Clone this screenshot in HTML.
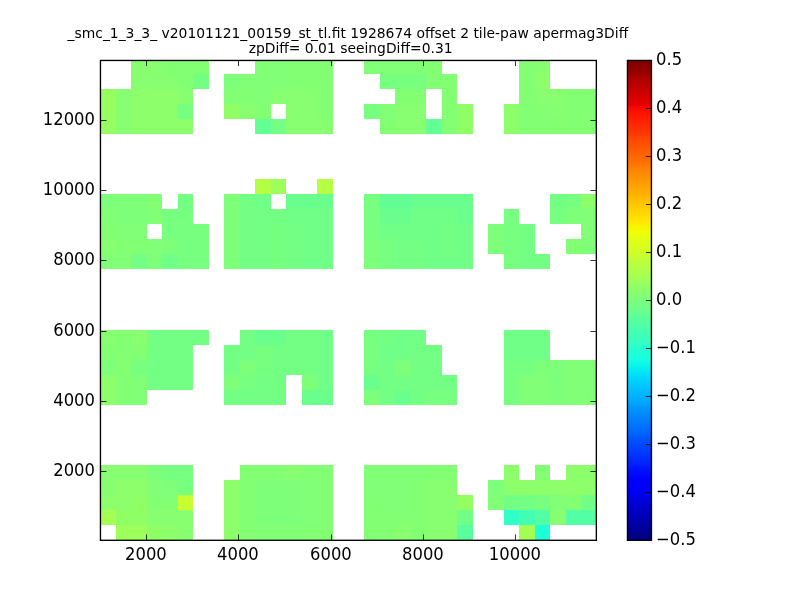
<!DOCTYPE html>
<html><head><meta charset="utf-8"><title>plot</title>
<style>
html,body{margin:0;padding:0;background:#fff;}
svg{display:block;}
text{font-family:"DejaVu Sans","Liberation Sans",sans-serif;font-size:16.67px;fill:#000;}
.t{font-size:13.89px;}
.k{stroke:#000;stroke-width:0.8;fill:none;}
.a{stroke:#000;stroke-width:1.35;fill:none;}
</style></head><body>
<svg width="800" height="600" viewBox="0 0 800 600">
<rect width="800" height="600" fill="#fff"/>
<g shape-rendering="crispEdges">
<rect x="131" y="60" width="31" height="14" fill="#87ff70"/>
<rect x="162" y="60" width="47" height="14" fill="#83ff73"/>
<rect x="255" y="60" width="31" height="14" fill="#80ff77"/>
<rect x="286" y="60" width="47" height="14" fill="#83ff73"/>
<rect x="364" y="60" width="62" height="14" fill="#80ff77"/>
<rect x="426" y="60" width="16" height="14" fill="#83ff73"/>
<rect x="519" y="60" width="16" height="14" fill="#83ff73"/>
<rect x="535" y="60" width="15" height="14" fill="#87ff70"/>
<rect x="131" y="74" width="47" height="15" fill="#87ff70"/>
<rect x="178" y="74" width="15" height="15" fill="#83ff73"/>
<rect x="193" y="74" width="16" height="15" fill="#73ff83"/>
<rect x="224" y="74" width="16" height="15" fill="#7dff7a"/>
<rect x="240" y="74" width="46" height="15" fill="#80ff77"/>
<rect x="286" y="74" width="47" height="15" fill="#83ff73"/>
<rect x="380" y="74" width="46" height="15" fill="#77ff80"/>
<rect x="426" y="74" width="31" height="15" fill="#83ff73"/>
<rect x="519" y="74" width="16" height="15" fill="#83ff73"/>
<rect x="535" y="74" width="15" height="15" fill="#8dff6a"/>
<rect x="100" y="89" width="16" height="15" fill="#97ff60"/>
<rect x="116" y="89" width="15" height="15" fill="#87ff70"/>
<rect x="131" y="89" width="47" height="15" fill="#8dff6a"/>
<rect x="178" y="89" width="15" height="15" fill="#87ff70"/>
<rect x="224" y="89" width="31" height="15" fill="#83ff73"/>
<rect x="255" y="89" width="16" height="15" fill="#80ff77"/>
<rect x="271" y="89" width="46" height="15" fill="#87ff70"/>
<rect x="317" y="89" width="16" height="15" fill="#83ff73"/>
<rect x="395" y="89" width="31" height="15" fill="#83ff73"/>
<rect x="442" y="89" width="15" height="15" fill="#83ff73"/>
<rect x="519" y="89" width="16" height="15" fill="#83ff73"/>
<rect x="535" y="89" width="31" height="15" fill="#87ff70"/>
<rect x="566" y="89" width="30" height="15" fill="#83ff73"/>
<rect x="100" y="104" width="16" height="15" fill="#97ff60"/>
<rect x="116" y="104" width="15" height="15" fill="#87ff70"/>
<rect x="131" y="104" width="47" height="15" fill="#8dff6a"/>
<rect x="178" y="104" width="15" height="15" fill="#77ff80"/>
<rect x="224" y="104" width="16" height="15" fill="#90ff66"/>
<rect x="240" y="104" width="15" height="15" fill="#87ff70"/>
<rect x="255" y="104" width="16" height="15" fill="#83ff73"/>
<rect x="286" y="104" width="31" height="15" fill="#87ff70"/>
<rect x="317" y="104" width="16" height="15" fill="#83ff73"/>
<rect x="364" y="104" width="16" height="15" fill="#77ff80"/>
<rect x="380" y="104" width="15" height="15" fill="#80ff77"/>
<rect x="395" y="104" width="31" height="15" fill="#87ff70"/>
<rect x="442" y="104" width="15" height="15" fill="#83ff73"/>
<rect x="457" y="104" width="16" height="15" fill="#90ff66"/>
<rect x="504" y="104" width="15" height="15" fill="#8dff6a"/>
<rect x="519" y="104" width="31" height="15" fill="#83ff73"/>
<rect x="550" y="104" width="16" height="15" fill="#87ff70"/>
<rect x="566" y="104" width="30" height="15" fill="#83ff73"/>
<rect x="100" y="119" width="16" height="15" fill="#97ff60"/>
<rect x="116" y="119" width="15" height="15" fill="#87ff70"/>
<rect x="131" y="119" width="62" height="15" fill="#8dff6a"/>
<rect x="255" y="119" width="16" height="15" fill="#63ff94"/>
<rect x="271" y="119" width="15" height="15" fill="#73ff83"/>
<rect x="286" y="119" width="47" height="15" fill="#87ff70"/>
<rect x="380" y="119" width="15" height="15" fill="#83ff73"/>
<rect x="395" y="119" width="31" height="15" fill="#87ff70"/>
<rect x="426" y="119" width="16" height="15" fill="#63ff94"/>
<rect x="442" y="119" width="15" height="15" fill="#83ff73"/>
<rect x="457" y="119" width="16" height="15" fill="#90ff66"/>
<rect x="504" y="119" width="15" height="15" fill="#8dff6a"/>
<rect x="519" y="119" width="77" height="15" fill="#83ff73"/>
<rect x="255" y="179" width="16" height="15" fill="#b4ff43"/>
<rect x="271" y="179" width="15" height="15" fill="#9dff5a"/>
<rect x="317" y="179" width="16" height="15" fill="#b4ff43"/>
<rect x="100" y="194" width="47" height="15" fill="#7dff7a"/>
<rect x="147" y="194" width="15" height="15" fill="#83ff73"/>
<rect x="178" y="194" width="15" height="15" fill="#73ff83"/>
<rect x="224" y="194" width="16" height="15" fill="#7dff7a"/>
<rect x="240" y="194" width="15" height="15" fill="#73ff83"/>
<rect x="255" y="194" width="16" height="15" fill="#70ff87"/>
<rect x="286" y="194" width="47" height="15" fill="#6aff8d"/>
<rect x="364" y="194" width="16" height="15" fill="#77ff80"/>
<rect x="380" y="194" width="31" height="15" fill="#63ff94"/>
<rect x="411" y="194" width="62" height="15" fill="#6aff8d"/>
<rect x="550" y="194" width="16" height="15" fill="#73ff83"/>
<rect x="566" y="194" width="15" height="15" fill="#77ff80"/>
<rect x="581" y="194" width="15" height="15" fill="#8dff6a"/>
<rect x="100" y="209" width="16" height="15" fill="#80ff77"/>
<rect x="116" y="209" width="31" height="15" fill="#7dff7a"/>
<rect x="147" y="209" width="15" height="15" fill="#80ff77"/>
<rect x="162" y="209" width="31" height="15" fill="#77ff80"/>
<rect x="224" y="209" width="16" height="15" fill="#7dff7a"/>
<rect x="240" y="209" width="46" height="15" fill="#73ff83"/>
<rect x="286" y="209" width="47" height="15" fill="#70ff87"/>
<rect x="364" y="209" width="16" height="15" fill="#77ff80"/>
<rect x="380" y="209" width="31" height="15" fill="#6aff8d"/>
<rect x="411" y="209" width="46" height="15" fill="#70ff87"/>
<rect x="457" y="209" width="16" height="15" fill="#6aff8d"/>
<rect x="504" y="209" width="15" height="15" fill="#77ff80"/>
<rect x="550" y="209" width="16" height="15" fill="#77ff80"/>
<rect x="566" y="209" width="15" height="15" fill="#7dff7a"/>
<rect x="581" y="209" width="15" height="15" fill="#80ff77"/>
<rect x="100" y="224" width="16" height="15" fill="#83ff73"/>
<rect x="116" y="224" width="31" height="15" fill="#80ff77"/>
<rect x="162" y="224" width="47" height="15" fill="#77ff80"/>
<rect x="224" y="224" width="16" height="15" fill="#7dff7a"/>
<rect x="240" y="224" width="31" height="15" fill="#73ff83"/>
<rect x="271" y="224" width="15" height="15" fill="#77ff80"/>
<rect x="286" y="224" width="16" height="15" fill="#73ff83"/>
<rect x="302" y="224" width="31" height="15" fill="#70ff87"/>
<rect x="364" y="224" width="16" height="15" fill="#77ff80"/>
<rect x="380" y="224" width="62" height="15" fill="#70ff87"/>
<rect x="442" y="224" width="15" height="15" fill="#73ff83"/>
<rect x="457" y="224" width="16" height="15" fill="#70ff87"/>
<rect x="488" y="224" width="16" height="15" fill="#7dff7a"/>
<rect x="504" y="224" width="15" height="15" fill="#77ff80"/>
<rect x="519" y="224" width="16" height="15" fill="#73ff83"/>
<rect x="581" y="224" width="15" height="15" fill="#80ff77"/>
<rect x="100" y="239" width="16" height="15" fill="#87ff70"/>
<rect x="116" y="239" width="31" height="15" fill="#83ff73"/>
<rect x="147" y="239" width="15" height="15" fill="#80ff77"/>
<rect x="162" y="239" width="16" height="15" fill="#7dff7a"/>
<rect x="178" y="239" width="31" height="15" fill="#77ff80"/>
<rect x="224" y="239" width="16" height="15" fill="#7dff7a"/>
<rect x="240" y="239" width="31" height="15" fill="#73ff83"/>
<rect x="271" y="239" width="15" height="15" fill="#77ff80"/>
<rect x="286" y="239" width="16" height="15" fill="#73ff83"/>
<rect x="302" y="239" width="31" height="15" fill="#70ff87"/>
<rect x="364" y="239" width="16" height="15" fill="#7dff7a"/>
<rect x="380" y="239" width="15" height="15" fill="#77ff80"/>
<rect x="395" y="239" width="31" height="15" fill="#73ff83"/>
<rect x="426" y="239" width="16" height="15" fill="#70ff87"/>
<rect x="442" y="239" width="15" height="15" fill="#73ff83"/>
<rect x="457" y="239" width="16" height="15" fill="#70ff87"/>
<rect x="488" y="239" width="16" height="15" fill="#7dff7a"/>
<rect x="504" y="239" width="15" height="15" fill="#77ff80"/>
<rect x="519" y="239" width="16" height="15" fill="#73ff83"/>
<rect x="566" y="239" width="15" height="15" fill="#83ff73"/>
<rect x="581" y="239" width="15" height="15" fill="#7dff7a"/>
<rect x="100" y="254" width="31" height="15" fill="#80ff77"/>
<rect x="131" y="254" width="16" height="15" fill="#73ff83"/>
<rect x="147" y="254" width="15" height="15" fill="#7dff7a"/>
<rect x="162" y="254" width="16" height="15" fill="#70ff87"/>
<rect x="178" y="254" width="31" height="15" fill="#77ff80"/>
<rect x="224" y="254" width="16" height="15" fill="#7dff7a"/>
<rect x="240" y="254" width="31" height="15" fill="#73ff83"/>
<rect x="271" y="254" width="15" height="15" fill="#77ff80"/>
<rect x="286" y="254" width="16" height="15" fill="#73ff83"/>
<rect x="302" y="254" width="31" height="15" fill="#70ff87"/>
<rect x="364" y="254" width="16" height="15" fill="#7dff7a"/>
<rect x="380" y="254" width="15" height="15" fill="#77ff80"/>
<rect x="395" y="254" width="31" height="15" fill="#73ff83"/>
<rect x="426" y="254" width="47" height="15" fill="#70ff87"/>
<rect x="504" y="254" width="15" height="15" fill="#77ff80"/>
<rect x="519" y="254" width="31" height="15" fill="#73ff83"/>
<rect x="100" y="330" width="16" height="15" fill="#87ff70"/>
<rect x="116" y="330" width="15" height="15" fill="#83ff73"/>
<rect x="131" y="330" width="16" height="15" fill="#87ff70"/>
<rect x="147" y="330" width="62" height="15" fill="#73ff83"/>
<rect x="240" y="330" width="15" height="15" fill="#73ff83"/>
<rect x="255" y="330" width="31" height="15" fill="#6aff8d"/>
<rect x="286" y="330" width="31" height="15" fill="#73ff83"/>
<rect x="317" y="330" width="16" height="15" fill="#70ff87"/>
<rect x="364" y="330" width="16" height="15" fill="#77ff80"/>
<rect x="380" y="330" width="15" height="15" fill="#73ff83"/>
<rect x="395" y="330" width="31" height="15" fill="#70ff87"/>
<rect x="504" y="330" width="46" height="15" fill="#70ff87"/>
<rect x="100" y="345" width="47" height="15" fill="#83ff73"/>
<rect x="147" y="345" width="46" height="15" fill="#73ff83"/>
<rect x="224" y="345" width="31" height="15" fill="#73ff83"/>
<rect x="255" y="345" width="16" height="15" fill="#77ff80"/>
<rect x="271" y="345" width="46" height="15" fill="#73ff83"/>
<rect x="317" y="345" width="16" height="15" fill="#70ff87"/>
<rect x="364" y="345" width="16" height="15" fill="#77ff80"/>
<rect x="380" y="345" width="31" height="15" fill="#70ff87"/>
<rect x="411" y="345" width="31" height="15" fill="#73ff83"/>
<rect x="504" y="345" width="46" height="15" fill="#70ff87"/>
<rect x="100" y="360" width="16" height="15" fill="#7dff7a"/>
<rect x="116" y="360" width="15" height="15" fill="#83ff73"/>
<rect x="131" y="360" width="16" height="15" fill="#77ff80"/>
<rect x="147" y="360" width="46" height="15" fill="#73ff83"/>
<rect x="224" y="360" width="16" height="15" fill="#73ff83"/>
<rect x="240" y="360" width="15" height="15" fill="#7dff7a"/>
<rect x="255" y="360" width="16" height="15" fill="#77ff80"/>
<rect x="271" y="360" width="46" height="15" fill="#73ff83"/>
<rect x="317" y="360" width="16" height="15" fill="#70ff87"/>
<rect x="364" y="360" width="16" height="15" fill="#77ff80"/>
<rect x="380" y="360" width="15" height="15" fill="#73ff83"/>
<rect x="395" y="360" width="16" height="15" fill="#7dff7a"/>
<rect x="411" y="360" width="31" height="15" fill="#73ff83"/>
<rect x="504" y="360" width="31" height="15" fill="#77ff80"/>
<rect x="535" y="360" width="31" height="15" fill="#7dff7a"/>
<rect x="566" y="360" width="30" height="15" fill="#80ff77"/>
<rect x="100" y="375" width="16" height="15" fill="#8dff6a"/>
<rect x="116" y="375" width="15" height="15" fill="#83ff73"/>
<rect x="131" y="375" width="16" height="15" fill="#80ff77"/>
<rect x="147" y="375" width="46" height="15" fill="#73ff83"/>
<rect x="224" y="375" width="16" height="15" fill="#7dff7a"/>
<rect x="240" y="375" width="15" height="15" fill="#77ff80"/>
<rect x="255" y="375" width="31" height="15" fill="#73ff83"/>
<rect x="302" y="375" width="15" height="15" fill="#7dff7a"/>
<rect x="317" y="375" width="16" height="15" fill="#70ff87"/>
<rect x="364" y="375" width="16" height="15" fill="#6aff8d"/>
<rect x="380" y="375" width="77" height="15" fill="#73ff83"/>
<rect x="504" y="375" width="15" height="15" fill="#77ff80"/>
<rect x="519" y="375" width="31" height="15" fill="#80ff77"/>
<rect x="550" y="375" width="16" height="15" fill="#7dff7a"/>
<rect x="566" y="375" width="30" height="15" fill="#80ff77"/>
<rect x="100" y="390" width="16" height="15" fill="#8dff6a"/>
<rect x="116" y="390" width="15" height="15" fill="#83ff73"/>
<rect x="131" y="390" width="16" height="15" fill="#80ff77"/>
<rect x="224" y="390" width="62" height="15" fill="#73ff83"/>
<rect x="302" y="390" width="31" height="15" fill="#6aff8d"/>
<rect x="364" y="390" width="16" height="15" fill="#7dff7a"/>
<rect x="380" y="390" width="15" height="15" fill="#73ff83"/>
<rect x="395" y="390" width="16" height="15" fill="#6aff8d"/>
<rect x="411" y="390" width="15" height="15" fill="#73ff83"/>
<rect x="426" y="390" width="31" height="15" fill="#77ff80"/>
<rect x="504" y="390" width="15" height="15" fill="#77ff80"/>
<rect x="519" y="390" width="31" height="15" fill="#80ff77"/>
<rect x="550" y="390" width="16" height="15" fill="#7dff7a"/>
<rect x="566" y="390" width="15" height="15" fill="#80ff77"/>
<rect x="581" y="390" width="15" height="15" fill="#83ff73"/>
<rect x="100" y="465" width="47" height="15" fill="#87ff70"/>
<rect x="147" y="465" width="15" height="15" fill="#7dff7a"/>
<rect x="162" y="465" width="31" height="15" fill="#77ff80"/>
<rect x="240" y="465" width="46" height="15" fill="#83ff73"/>
<rect x="286" y="465" width="16" height="15" fill="#87ff70"/>
<rect x="302" y="465" width="31" height="15" fill="#83ff73"/>
<rect x="364" y="465" width="62" height="15" fill="#80ff77"/>
<rect x="426" y="465" width="31" height="15" fill="#83ff73"/>
<rect x="504" y="465" width="15" height="15" fill="#8dff6a"/>
<rect x="535" y="465" width="15" height="15" fill="#83ff73"/>
<rect x="566" y="465" width="30" height="15" fill="#8dff6a"/>
<rect x="100" y="480" width="16" height="15" fill="#87ff70"/>
<rect x="116" y="480" width="31" height="15" fill="#8dff6a"/>
<rect x="147" y="480" width="15" height="15" fill="#80ff77"/>
<rect x="162" y="480" width="16" height="15" fill="#7dff7a"/>
<rect x="178" y="480" width="15" height="15" fill="#77ff80"/>
<rect x="224" y="480" width="16" height="15" fill="#8dff6a"/>
<rect x="240" y="480" width="15" height="15" fill="#83ff73"/>
<rect x="255" y="480" width="47" height="15" fill="#7dff7a"/>
<rect x="302" y="480" width="15" height="15" fill="#80ff77"/>
<rect x="317" y="480" width="16" height="15" fill="#83ff73"/>
<rect x="364" y="480" width="47" height="15" fill="#80ff77"/>
<rect x="411" y="480" width="15" height="15" fill="#83ff73"/>
<rect x="426" y="480" width="31" height="15" fill="#87ff70"/>
<rect x="488" y="480" width="16" height="15" fill="#7dff7a"/>
<rect x="504" y="480" width="92" height="15" fill="#8dff6a"/>
<rect x="100" y="495" width="31" height="15" fill="#8dff6a"/>
<rect x="131" y="495" width="16" height="15" fill="#90ff66"/>
<rect x="147" y="495" width="31" height="15" fill="#83ff73"/>
<rect x="178" y="495" width="15" height="15" fill="#c7ff30"/>
<rect x="224" y="495" width="16" height="15" fill="#8dff6a"/>
<rect x="240" y="495" width="15" height="15" fill="#83ff73"/>
<rect x="255" y="495" width="47" height="15" fill="#7dff7a"/>
<rect x="302" y="495" width="15" height="15" fill="#80ff77"/>
<rect x="317" y="495" width="16" height="15" fill="#83ff73"/>
<rect x="364" y="495" width="16" height="15" fill="#83ff73"/>
<rect x="380" y="495" width="31" height="15" fill="#80ff77"/>
<rect x="411" y="495" width="15" height="15" fill="#83ff73"/>
<rect x="426" y="495" width="31" height="15" fill="#87ff70"/>
<rect x="457" y="495" width="16" height="15" fill="#94ff63"/>
<rect x="488" y="495" width="16" height="15" fill="#80ff77"/>
<rect x="504" y="495" width="31" height="15" fill="#73ff83"/>
<rect x="535" y="495" width="15" height="15" fill="#77ff80"/>
<rect x="550" y="495" width="16" height="15" fill="#80ff77"/>
<rect x="566" y="495" width="15" height="15" fill="#83ff73"/>
<rect x="581" y="495" width="15" height="15" fill="#70ff87"/>
<rect x="100" y="510" width="16" height="15" fill="#a4ff53"/>
<rect x="116" y="510" width="31" height="15" fill="#90ff66"/>
<rect x="147" y="510" width="46" height="15" fill="#87ff70"/>
<rect x="224" y="510" width="16" height="15" fill="#8dff6a"/>
<rect x="240" y="510" width="15" height="15" fill="#83ff73"/>
<rect x="255" y="510" width="47" height="15" fill="#7dff7a"/>
<rect x="302" y="510" width="15" height="15" fill="#80ff77"/>
<rect x="317" y="510" width="16" height="15" fill="#83ff73"/>
<rect x="364" y="510" width="62" height="15" fill="#83ff73"/>
<rect x="426" y="510" width="31" height="15" fill="#87ff70"/>
<rect x="457" y="510" width="16" height="15" fill="#70ff87"/>
<rect x="504" y="510" width="15" height="15" fill="#30ffc7"/>
<rect x="519" y="510" width="16" height="15" fill="#43ffb4"/>
<rect x="535" y="510" width="15" height="15" fill="#53ffa4"/>
<rect x="550" y="510" width="16" height="15" fill="#87ff70"/>
<rect x="566" y="510" width="30" height="15" fill="#53ffa4"/>
<rect x="116" y="525" width="31" height="15" fill="#9dff5a"/>
<rect x="147" y="525" width="15" height="15" fill="#90ff66"/>
<rect x="162" y="525" width="16" height="15" fill="#8dff6a"/>
<rect x="178" y="525" width="15" height="15" fill="#87ff70"/>
<rect x="224" y="525" width="16" height="15" fill="#8dff6a"/>
<rect x="240" y="525" width="15" height="15" fill="#83ff73"/>
<rect x="255" y="525" width="47" height="15" fill="#80ff77"/>
<rect x="302" y="525" width="31" height="15" fill="#83ff73"/>
<rect x="364" y="525" width="31" height="15" fill="#83ff73"/>
<rect x="395" y="525" width="16" height="15" fill="#87ff70"/>
<rect x="411" y="525" width="15" height="15" fill="#83ff73"/>
<rect x="426" y="525" width="31" height="15" fill="#87ff70"/>
<rect x="457" y="525" width="16" height="15" fill="#5aff9d"/>
<rect x="519" y="525" width="16" height="15" fill="#a4ff53"/>
<rect x="535" y="525" width="15" height="15" fill="#1fffd7"/>
</g>
<g shape-rendering="crispEdges">
<rect x="627" y="60" width="25" height="2" fill="#800000"/>
<rect x="627" y="62" width="25" height="2" fill="#840000"/>
<rect x="627" y="64" width="25" height="2" fill="#890000"/>
<rect x="627" y="66" width="25" height="2" fill="#8d0000"/>
<rect x="627" y="68" width="25" height="2" fill="#920000"/>
<rect x="627" y="70" width="25" height="2" fill="#960000"/>
<rect x="627" y="72" width="25" height="2" fill="#9b0000"/>
<rect x="627" y="74" width="25" height="2" fill="#9f0000"/>
<rect x="627" y="76" width="25" height="2" fill="#a80000"/>
<rect x="627" y="78" width="25" height="2" fill="#ad0000"/>
<rect x="627" y="80" width="25" height="2" fill="#b20000"/>
<rect x="627" y="82" width="25" height="2" fill="#b60000"/>
<rect x="627" y="84" width="25" height="2" fill="#bb0000"/>
<rect x="627" y="86" width="25" height="2" fill="#bf0000"/>
<rect x="627" y="88" width="25" height="2" fill="#c40000"/>
<rect x="627" y="90" width="25" height="2" fill="#c80000"/>
<rect x="627" y="92" width="25" height="2" fill="#cd0000"/>
<rect x="627" y="94" width="25" height="2" fill="#d10000"/>
<rect x="627" y="96" width="25" height="2" fill="#d60000"/>
<rect x="627" y="98" width="25" height="2" fill="#da0000"/>
<rect x="627" y="100" width="25" height="2" fill="#df0000"/>
<rect x="627" y="102" width="25" height="2" fill="#e40000"/>
<rect x="627" y="104" width="25" height="2" fill="#e80000"/>
<rect x="627" y="106" width="25" height="2" fill="#f10800"/>
<rect x="627" y="108" width="25" height="2" fill="#f60b00"/>
<rect x="627" y="110" width="25" height="2" fill="#fa0f00"/>
<rect x="627" y="112" width="25" height="2" fill="#ff1300"/>
<rect x="627" y="114" width="25" height="2" fill="#ff1600"/>
<rect x="627" y="116" width="25" height="2" fill="#ff1a00"/>
<rect x="627" y="118" width="25" height="2" fill="#ff1e00"/>
<rect x="627" y="120" width="25" height="2" fill="#ff2200"/>
<rect x="627" y="122" width="25" height="2" fill="#ff2500"/>
<rect x="627" y="124" width="25" height="2" fill="#ff2900"/>
<rect x="627" y="126" width="25" height="2" fill="#ff2d00"/>
<rect x="627" y="128" width="25" height="2" fill="#ff3000"/>
<rect x="627" y="130" width="25" height="2" fill="#ff3400"/>
<rect x="627" y="132" width="25" height="2" fill="#ff3800"/>
<rect x="627" y="134" width="25" height="2" fill="#ff3b00"/>
<rect x="627" y="136" width="25" height="2" fill="#ff4300"/>
<rect x="627" y="138" width="25" height="2" fill="#ff4700"/>
<rect x="627" y="140" width="25" height="2" fill="#ff4a00"/>
<rect x="627" y="142" width="25" height="2" fill="#ff4e00"/>
<rect x="627" y="144" width="25" height="2" fill="#ff5200"/>
<rect x="627" y="146" width="25" height="2" fill="#ff5500"/>
<rect x="627" y="148" width="25" height="2" fill="#ff5900"/>
<rect x="627" y="150" width="25" height="2" fill="#ff5d00"/>
<rect x="627" y="152" width="25" height="2" fill="#ff6000"/>
<rect x="627" y="154" width="25" height="2" fill="#ff6400"/>
<rect x="627" y="156" width="25" height="2" fill="#ff6800"/>
<rect x="627" y="158" width="25" height="2" fill="#ff6c00"/>
<rect x="627" y="160" width="25" height="2" fill="#ff6f00"/>
<rect x="627" y="162" width="25" height="2" fill="#ff7300"/>
<rect x="627" y="164" width="25" height="2" fill="#ff7700"/>
<rect x="627" y="166" width="25" height="2" fill="#ff7e00"/>
<rect x="627" y="168" width="25" height="2" fill="#ff8200"/>
<rect x="627" y="170" width="25" height="2" fill="#ff8600"/>
<rect x="627" y="172" width="25" height="2" fill="#ff8900"/>
<rect x="627" y="174" width="25" height="2" fill="#ff8d00"/>
<rect x="627" y="176" width="25" height="2" fill="#ff9100"/>
<rect x="627" y="178" width="25" height="2" fill="#ff9400"/>
<rect x="627" y="180" width="25" height="2" fill="#ff9800"/>
<rect x="627" y="182" width="25" height="2" fill="#ff9c00"/>
<rect x="627" y="184" width="25" height="2" fill="#ff9f00"/>
<rect x="627" y="186" width="25" height="2" fill="#ffa300"/>
<rect x="627" y="188" width="25" height="2" fill="#ffa700"/>
<rect x="627" y="190" width="25" height="2" fill="#ffab00"/>
<rect x="627" y="192" width="25" height="2" fill="#ffae00"/>
<rect x="627" y="194" width="25" height="2" fill="#ffb200"/>
<rect x="627" y="196" width="25" height="2" fill="#ffb900"/>
<rect x="627" y="198" width="25" height="2" fill="#ffbd00"/>
<rect x="627" y="200" width="25" height="2" fill="#ffc100"/>
<rect x="627" y="202" width="25" height="2" fill="#ffc400"/>
<rect x="627" y="204" width="25" height="2" fill="#ffc800"/>
<rect x="627" y="206" width="25" height="2" fill="#ffcc00"/>
<rect x="627" y="208" width="25" height="2" fill="#ffd000"/>
<rect x="627" y="210" width="25" height="2" fill="#ffd300"/>
<rect x="627" y="212" width="25" height="2" fill="#ffd700"/>
<rect x="627" y="214" width="25" height="2" fill="#ffdb00"/>
<rect x="627" y="216" width="25" height="2" fill="#ffde00"/>
<rect x="627" y="218" width="25" height="2" fill="#ffe200"/>
<rect x="627" y="220" width="25" height="2" fill="#ffe600"/>
<rect x="627" y="222" width="25" height="2" fill="#ffea00"/>
<rect x="627" y="224" width="25" height="2" fill="#feed00"/>
<rect x="627" y="226" width="25" height="2" fill="#f8f500"/>
<rect x="627" y="228" width="25" height="2" fill="#f4f802"/>
<rect x="627" y="230" width="25" height="2" fill="#f1fc06"/>
<rect x="627" y="232" width="25" height="2" fill="#eeff09"/>
<rect x="627" y="234" width="25" height="2" fill="#ebff0c"/>
<rect x="627" y="236" width="25" height="2" fill="#e7ff0f"/>
<rect x="627" y="238" width="25" height="2" fill="#e4ff13"/>
<rect x="627" y="240" width="25" height="2" fill="#e1ff16"/>
<rect x="627" y="242" width="25" height="2" fill="#deff19"/>
<rect x="627" y="244" width="25" height="2" fill="#dbff1c"/>
<rect x="627" y="246" width="25" height="2" fill="#d7ff1f"/>
<rect x="627" y="248" width="25" height="2" fill="#d4ff23"/>
<rect x="627" y="250" width="25" height="2" fill="#d1ff26"/>
<rect x="627" y="252" width="25" height="2" fill="#ceff29"/>
<rect x="627" y="254" width="25" height="2" fill="#caff2c"/>
<rect x="627" y="256" width="25" height="2" fill="#c4ff33"/>
<rect x="627" y="258" width="25" height="2" fill="#c1ff36"/>
<rect x="627" y="260" width="25" height="2" fill="#beff39"/>
<rect x="627" y="262" width="25" height="2" fill="#baff3c"/>
<rect x="627" y="264" width="25" height="2" fill="#b7ff40"/>
<rect x="627" y="266" width="25" height="2" fill="#b4ff43"/>
<rect x="627" y="268" width="25" height="2" fill="#b1ff46"/>
<rect x="627" y="270" width="25" height="2" fill="#adff49"/>
<rect x="627" y="272" width="25" height="2" fill="#aaff4d"/>
<rect x="627" y="274" width="25" height="2" fill="#a7ff50"/>
<rect x="627" y="276" width="25" height="2" fill="#a4ff53"/>
<rect x="627" y="278" width="25" height="2" fill="#a0ff56"/>
<rect x="627" y="280" width="25" height="2" fill="#9dff5a"/>
<rect x="627" y="282" width="25" height="2" fill="#9aff5d"/>
<rect x="627" y="284" width="25" height="2" fill="#97ff60"/>
<rect x="627" y="286" width="25" height="2" fill="#90ff66"/>
<rect x="627" y="288" width="25" height="2" fill="#8dff6a"/>
<rect x="627" y="290" width="25" height="2" fill="#8aff6d"/>
<rect x="627" y="292" width="25" height="2" fill="#87ff70"/>
<rect x="627" y="294" width="25" height="2" fill="#83ff73"/>
<rect x="627" y="296" width="25" height="2" fill="#80ff77"/>
<rect x="627" y="298" width="25" height="2" fill="#7dff7a"/>
<rect x="627" y="300" width="25" height="2" fill="#7aff7d"/>
<rect x="627" y="302" width="25" height="2" fill="#77ff80"/>
<rect x="627" y="304" width="25" height="2" fill="#73ff83"/>
<rect x="627" y="306" width="25" height="2" fill="#70ff87"/>
<rect x="627" y="308" width="25" height="2" fill="#6dff8a"/>
<rect x="627" y="310" width="25" height="2" fill="#6aff8d"/>
<rect x="627" y="312" width="25" height="2" fill="#66ff90"/>
<rect x="627" y="314" width="25" height="2" fill="#63ff94"/>
<rect x="627" y="316" width="25" height="2" fill="#5dff9a"/>
<rect x="627" y="318" width="25" height="2" fill="#5aff9d"/>
<rect x="627" y="320" width="25" height="2" fill="#56ffa0"/>
<rect x="627" y="322" width="25" height="2" fill="#53ffa4"/>
<rect x="627" y="324" width="25" height="2" fill="#50ffa7"/>
<rect x="627" y="326" width="25" height="2" fill="#4dffaa"/>
<rect x="627" y="328" width="25" height="2" fill="#49ffad"/>
<rect x="627" y="330" width="25" height="2" fill="#46ffb1"/>
<rect x="627" y="332" width="25" height="2" fill="#43ffb4"/>
<rect x="627" y="334" width="25" height="2" fill="#40ffb7"/>
<rect x="627" y="336" width="25" height="2" fill="#3cffba"/>
<rect x="627" y="338" width="25" height="2" fill="#39ffbe"/>
<rect x="627" y="340" width="25" height="2" fill="#36ffc1"/>
<rect x="627" y="342" width="25" height="2" fill="#33ffc4"/>
<rect x="627" y="344" width="25" height="2" fill="#30ffc7"/>
<rect x="627" y="346" width="25" height="2" fill="#29ffce"/>
<rect x="627" y="348" width="25" height="2" fill="#26ffd1"/>
<rect x="627" y="350" width="25" height="2" fill="#23ffd4"/>
<rect x="627" y="352" width="25" height="2" fill="#1fffd7"/>
<rect x="627" y="354" width="25" height="2" fill="#1cffdb"/>
<rect x="627" y="356" width="25" height="2" fill="#19ffde"/>
<rect x="627" y="358" width="25" height="2" fill="#16ffe1"/>
<rect x="627" y="360" width="25" height="2" fill="#13fce4"/>
<rect x="627" y="362" width="25" height="2" fill="#0ff8e7"/>
<rect x="627" y="364" width="25" height="2" fill="#0cf4eb"/>
<rect x="627" y="366" width="25" height="2" fill="#09f0ee"/>
<rect x="627" y="368" width="25" height="2" fill="#06ecf1"/>
<rect x="627" y="370" width="25" height="2" fill="#02e8f4"/>
<rect x="627" y="372" width="25" height="2" fill="#00e4f8"/>
<rect x="627" y="374" width="25" height="2" fill="#00e0fb"/>
<rect x="627" y="376" width="25" height="2" fill="#00d8ff"/>
<rect x="627" y="378" width="25" height="2" fill="#00d4ff"/>
<rect x="627" y="380" width="25" height="2" fill="#00d0ff"/>
<rect x="627" y="382" width="25" height="2" fill="#00ccff"/>
<rect x="627" y="384" width="25" height="2" fill="#00c8ff"/>
<rect x="627" y="386" width="25" height="2" fill="#00c4ff"/>
<rect x="627" y="388" width="25" height="2" fill="#00c0ff"/>
<rect x="627" y="390" width="25" height="2" fill="#00bcff"/>
<rect x="627" y="392" width="25" height="2" fill="#00b8ff"/>
<rect x="627" y="394" width="25" height="2" fill="#00b4ff"/>
<rect x="627" y="396" width="25" height="2" fill="#00b0ff"/>
<rect x="627" y="398" width="25" height="2" fill="#00acff"/>
<rect x="627" y="400" width="25" height="2" fill="#00a8ff"/>
<rect x="627" y="402" width="25" height="2" fill="#00a4ff"/>
<rect x="627" y="404" width="25" height="2" fill="#00a0ff"/>
<rect x="627" y="406" width="25" height="2" fill="#0098ff"/>
<rect x="627" y="408" width="25" height="2" fill="#0094ff"/>
<rect x="627" y="410" width="25" height="2" fill="#0090ff"/>
<rect x="627" y="412" width="25" height="2" fill="#008cff"/>
<rect x="627" y="414" width="25" height="2" fill="#0088ff"/>
<rect x="627" y="416" width="25" height="2" fill="#0084ff"/>
<rect x="627" y="418" width="25" height="2" fill="#0080ff"/>
<rect x="627" y="420" width="25" height="2" fill="#007cff"/>
<rect x="627" y="422" width="25" height="2" fill="#0078ff"/>
<rect x="627" y="424" width="25" height="2" fill="#0074ff"/>
<rect x="627" y="426" width="25" height="2" fill="#0070ff"/>
<rect x="627" y="428" width="25" height="2" fill="#006cff"/>
<rect x="627" y="430" width="25" height="2" fill="#0068ff"/>
<rect x="627" y="432" width="25" height="2" fill="#0064ff"/>
<rect x="627" y="434" width="25" height="2" fill="#0060ff"/>
<rect x="627" y="436" width="25" height="2" fill="#0058ff"/>
<rect x="627" y="438" width="25" height="2" fill="#0054ff"/>
<rect x="627" y="440" width="25" height="2" fill="#0050ff"/>
<rect x="627" y="442" width="25" height="2" fill="#004cff"/>
<rect x="627" y="444" width="25" height="2" fill="#0048ff"/>
<rect x="627" y="446" width="25" height="2" fill="#0044ff"/>
<rect x="627" y="448" width="25" height="2" fill="#0040ff"/>
<rect x="627" y="450" width="25" height="2" fill="#003cff"/>
<rect x="627" y="452" width="25" height="2" fill="#0038ff"/>
<rect x="627" y="454" width="25" height="2" fill="#0034ff"/>
<rect x="627" y="456" width="25" height="2" fill="#0030ff"/>
<rect x="627" y="458" width="25" height="2" fill="#002cff"/>
<rect x="627" y="460" width="25" height="2" fill="#0028ff"/>
<rect x="627" y="462" width="25" height="2" fill="#0024ff"/>
<rect x="627" y="464" width="25" height="2" fill="#0020ff"/>
<rect x="627" y="466" width="25" height="2" fill="#0018ff"/>
<rect x="627" y="468" width="25" height="2" fill="#0014ff"/>
<rect x="627" y="470" width="25" height="2" fill="#0010ff"/>
<rect x="627" y="472" width="25" height="2" fill="#000cff"/>
<rect x="627" y="474" width="25" height="2" fill="#0008ff"/>
<rect x="627" y="476" width="25" height="2" fill="#0004ff"/>
<rect x="627" y="478" width="25" height="2" fill="#0000ff"/>
<rect x="627" y="480" width="25" height="2" fill="#0000ff"/>
<rect x="627" y="482" width="25" height="2" fill="#0000ff"/>
<rect x="627" y="484" width="25" height="2" fill="#0000ff"/>
<rect x="627" y="486" width="25" height="2" fill="#0000ff"/>
<rect x="627" y="488" width="25" height="2" fill="#0000fa"/>
<rect x="627" y="490" width="25" height="2" fill="#0000f6"/>
<rect x="627" y="492" width="25" height="2" fill="#0000f1"/>
<rect x="627" y="494" width="25" height="2" fill="#0000ed"/>
<rect x="627" y="496" width="25" height="2" fill="#0000e3"/>
<rect x="627" y="498" width="25" height="2" fill="#0000df"/>
<rect x="627" y="500" width="25" height="2" fill="#0000da"/>
<rect x="627" y="502" width="25" height="2" fill="#0000d6"/>
<rect x="627" y="504" width="25" height="2" fill="#0000d1"/>
<rect x="627" y="506" width="25" height="2" fill="#0000cd"/>
<rect x="627" y="508" width="25" height="2" fill="#0000c8"/>
<rect x="627" y="510" width="25" height="2" fill="#0000c4"/>
<rect x="627" y="512" width="25" height="2" fill="#0000bf"/>
<rect x="627" y="514" width="25" height="2" fill="#0000bb"/>
<rect x="627" y="516" width="25" height="2" fill="#0000b6"/>
<rect x="627" y="518" width="25" height="2" fill="#0000b2"/>
<rect x="627" y="520" width="25" height="2" fill="#0000ad"/>
<rect x="627" y="522" width="25" height="2" fill="#0000a8"/>
<rect x="627" y="524" width="25" height="2" fill="#0000a4"/>
<rect x="627" y="526" width="25" height="2" fill="#00009b"/>
<rect x="627" y="528" width="25" height="2" fill="#000096"/>
<rect x="627" y="530" width="25" height="2" fill="#000092"/>
<rect x="627" y="532" width="25" height="2" fill="#00008d"/>
<rect x="627" y="534" width="25" height="2" fill="#000089"/>
<rect x="627" y="536" width="25" height="2" fill="#000084"/>
<rect x="627" y="538" width="25" height="2" fill="#000080"/>
</g>
<path d="M146.5 540v-5.6M146.5 60.5v5.6" class="k"/>
<text transform="translate(145.9 559.8) scale(0.985 1.06)" text-anchor="middle">2000</text>
<path d="M238.5 540v-5.6M238.5 60.5v5.6" class="k"/>
<text transform="translate(237.9 559.8) scale(0.985 1.06)" text-anchor="middle">4000</text>
<path d="M331.5 540v-5.6M331.5 60.5v5.6" class="k"/>
<text transform="translate(330.9 559.8) scale(0.985 1.06)" text-anchor="middle">6000</text>
<path d="M423.5 540v-5.6M423.5 60.5v5.6" class="k"/>
<text transform="translate(422.9 559.8) scale(0.985 1.06)" text-anchor="middle">8000</text>
<path d="M515.5 540v-5.6M515.5 60.5v5.6" class="k"/>
<text transform="translate(514.9 559.8) scale(0.985 1.06)" text-anchor="middle">10000</text>
<path d="M100.5 471.5h6M596 471.5h-5.6" class="k"/>
<text transform="translate(95 476) scale(0.985 1.06)" text-anchor="end">2000</text>
<path d="M100.5 401.5h6M596 401.5h-5.6" class="k"/>
<text transform="translate(95 406) scale(0.985 1.06)" text-anchor="end">4000</text>
<path d="M100.5 331.5h6M596 331.5h-5.6" class="k"/>
<text transform="translate(95 336) scale(0.985 1.06)" text-anchor="end">6000</text>
<path d="M100.5 260.5h6M596 260.5h-5.6" class="k"/>
<text transform="translate(95 265) scale(0.985 1.06)" text-anchor="end">8000</text>
<path d="M100.5 190.5h6M596 190.5h-5.6" class="k"/>
<text transform="translate(95 195) scale(0.985 1.06)" text-anchor="end">10000</text>
<path d="M100.5 120.5h6M596 120.5h-5.6" class="k"/>
<text transform="translate(95 125) scale(0.985 1.06)" text-anchor="end">12000</text>
<text transform="translate(656 64.8) scale(0.985 1.06)">0.5</text>
<path d="M651.5 108.5h-5.6" class="k"/>
<text transform="translate(656 112.8) scale(0.985 1.06)">0.4</text>
<path d="M651.5 156.5h-5.6" class="k"/>
<text transform="translate(656 160.8) scale(0.985 1.06)">0.3</text>
<path d="M651.5 204.5h-5.6" class="k"/>
<text transform="translate(656 208.8) scale(0.985 1.06)">0.2</text>
<path d="M651.5 252.5h-5.6" class="k"/>
<text transform="translate(656 256.8) scale(0.985 1.06)">0.1</text>
<path d="M651.5 300.5h-5.6" class="k"/>
<text transform="translate(656 304.8) scale(0.985 1.06)">0.0</text>
<path d="M651.5 348.5h-5.6" class="k"/>
<text transform="translate(656 352.8) scale(0.985 1.06)">−0.1</text>
<path d="M651.5 396.5h-5.6" class="k"/>
<text transform="translate(656 400.8) scale(0.985 1.06)">−0.2</text>
<path d="M651.5 444.5h-5.6" class="k"/>
<text transform="translate(656 448.8) scale(0.985 1.06)">−0.3</text>
<path d="M651.5 492.5h-5.6" class="k"/>
<text transform="translate(656 496.8) scale(0.985 1.06)">−0.4</text>
<text transform="translate(656 544.8) scale(0.985 1.06)">−0.5</text>
<rect x="100.45" y="60.45" width="495.9" height="479.85" class="a"/>
<rect x="627.45" y="60.45" width="24" height="479.85" class="a"/>
<text class="t" x="347.9" y="37.8" text-anchor="middle">_smc_1_3_3_ v20101121_00159_st_tl.fit 1928674 offset 2 tile-paw apermag3Diff</text>
<text class="t" x="350.6" y="52.7" text-anchor="middle">zpDiff= 0.01 seeingDiff=0.31</text>
</svg>
</body></html>
